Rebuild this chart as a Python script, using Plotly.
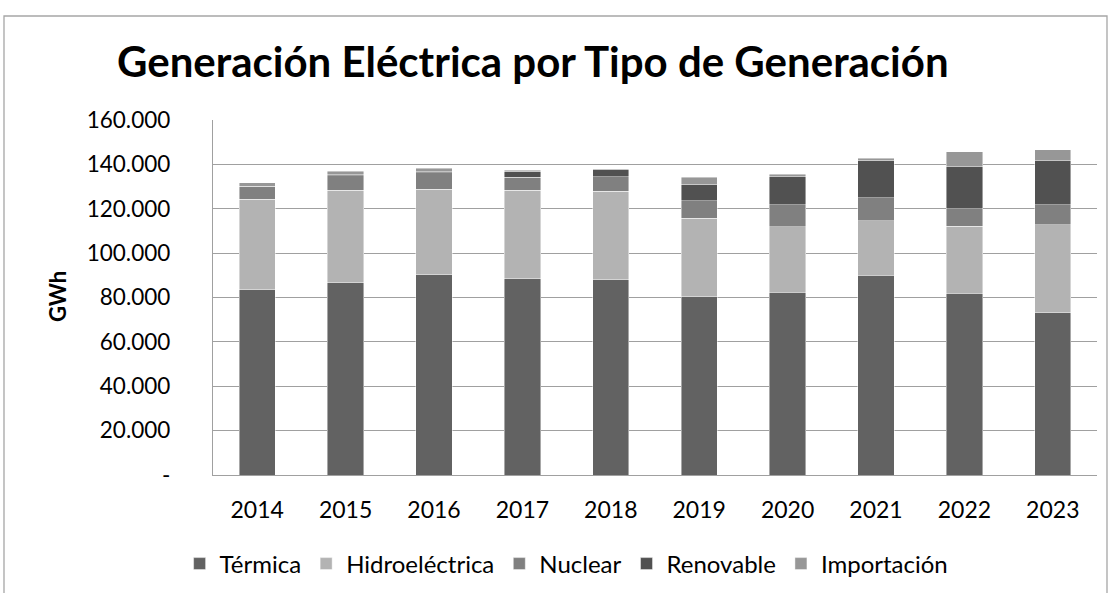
import plotly.graph_objects as go

years = ["2014", "2015", "2016", "2017", "2018", "2019", "2020", "2021", "2022", "2023"]
termica = [83400, 86700, 90300, 88500, 87900, 80400, 82300, 90100, 81900, 73100]
hidro = [40800, 41700, 38400, 39800, 40100, 35300, 29500, 24400, 30300, 39600]
nuclear = [5700, 6500, 7500, 5900, 6400, 7900, 9900, 10500, 7700, 9000]
renovable = [200, 400, 500, 2800, 3400, 7500, 12700, 16800, 19000, 19900]
importacion = [1600, 1700, 1600, 300, 300, 3200, 1200, 1000, 6700, 4900]

series_names = ["Térmica", "Hidroeléctrica", "Nuclear", "Renovable", "Importación"]
series_colors = ["#626262", "#b3b3b3", "#808080", "#515151", "#979797"]

tick_vals = [0, 20000, 40000, 60000, 80000, 100000, 120000, 140000, 160000]
tick_text = ["-", "20.000", "40.000", "60.000", "80.000", "100.000", "120.000", "140.000", "160.000"]

FONT = "Lato"

fig = go.Figure()
for name, vals, col in zip(series_names, [termica, hidro, nuclear, renovable, importacion], series_colors):
    fig.add_trace(go.Bar(
        x=years, y=vals, name=name,
        marker=dict(color=col, line=dict(color="rgba(255,255,255,0.55)", width=0.8)),
    ))

fig.update_layout(
    width=1110, height=593,
    barmode="stack", bargap=0.59,
    paper_bgcolor="white", plot_bgcolor="white",
    margin=dict(l=213, r=13, t=120, b=118, autoexpand=False),
    font=dict(family=FONT, color="#000000"),
    title=dict(
        text="<b>Generación Eléctrica por Tipo de Generación</b>",
        font=dict(family=FONT, size=42, color="#000000"),
        x=0.480, xanchor="center", y=0.895, yanchor="middle",
    ),
    showlegend=True,
    legend=dict(
        orientation="h", x=0.40, xanchor="center",
        yref="container", y=1 - 564 / 593, yanchor="middle",
        font=dict(family=FONT, size=24, color="#000000"),
        traceorder="normal", itemclick=False, itemdoubleclick=False,
    ),
    xaxis=dict(
        type="category", showline=True, linecolor="#a0a0a0", linewidth=1.3,
        ticks="", tickfont=dict(family=FONT, size=23, color="#000000"),
        ticklabelstandoff=14,
    ),
    yaxis=dict(
        range=[0, 160000], tickvals=tick_vals, ticktext=tick_text,
        showgrid=True, gridcolor="#a0a0a0", gridwidth=1.3,
        showline=True, linecolor="#a0a0a0", linewidth=1.3,
        zeroline=False, ticks="",
        tickfont=dict(family=FONT, size=22.5, color="#000000"),
        ticklabelstandoff=37,
    ),
    annotations=[dict(
        text="<b>GWh</b>", xref="paper", yref="paper",
        x=(57 - 213) / 884, y=(475 - 297) / 355, xanchor="center", yanchor="middle",
        textangle=-90, showarrow=False,
        font=dict(family=FONT, size=22, color="#000000"),
    )],
    shapes=[dict(
        type="rect", xref="paper", yref="paper",
        x0=(4 - 213) / 884, x1=(1107 - 213) / 884,
        y0=(475 - 620) / 355, y1=(475 - 16) / 355,
        line=dict(color="#a6a6a6", width=1.3), fillcolor="rgba(0,0,0,0)", layer="below",
    )],
)

fig.write_html(
    "out.html",
    config={"displayModeBar": False},
    post_script="document.body.style.margin='0';document.body.style.overflow='hidden';",
)
